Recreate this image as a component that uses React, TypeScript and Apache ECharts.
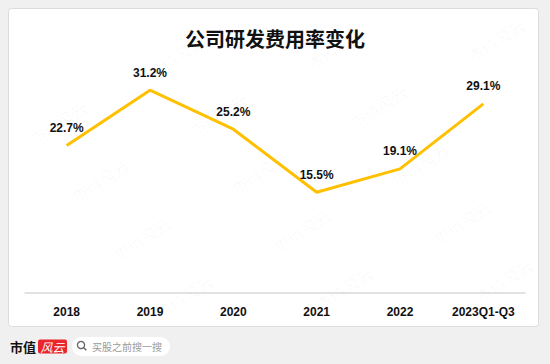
import React, { useEffect, useRef } from "react";
import * as echarts from "echarts";

const categories = ["2018", "2019", "2020", "2021", "2022", "2023Q1-Q3"];
const rdRatio = [22.7, 31.2, 25.2, 15.5, 19.1, 29.1];
const titleText = "公司研发费用率变化";
const watermarkText = "市值风云";

function buildWatermarks() {
  const out: any[] = [];
  const base = [58, 123];
  const a = [160, -8];
  const b = [42, 58];
  for (let i = -3; i <= 4; i++) {
    for (let j = -3; j <= 5; j++) {
      const x = base[0] + a[0] * i + b[0] * j;
      const y = base[1] + a[1] * i + b[1] * j;
      if (x < 40 || x > 510 || y < 30 || y > 335) continue;
      out.push({
        type: "text",
        x,
        y,
        rotation: (33 * Math.PI) / 180,
        z: 1,
        silent: true,
        style: {
          text: watermarkText,
          fontSize: 16,
          fontWeight: 300,
          fontFamily: "Noto Sans CJK SC",
          fill: "rgba(0,0,0,0.045)",
          textAlign: "center",
          textVerticalAlign: "middle",
        },
      });
    }
  }
  return out;
}

export default function App() {
  const ref = useRef<HTMLDivElement>(null);
  useEffect(() => {
    if (!ref.current) return;
    const chart = echarts.init(ref.current, null, { renderer: "svg" });
    chart.setOption({
      animation: false,
      backgroundColor: "#f0f0f0",
      title: {
        text: titleText,
        left: "center",
        top: 23,
        textStyle: {
          fontSize: 20,
          fontWeight: "bold",
          color: "#111",
          fontFamily: "Noto Sans CJK SC",
        },
      },
      grid: { left: 25, right: 25, top: 65.5, bottom: 71 },
      xAxis: {
        type: "category",
        data: categories,
        boundaryGap: true,
        axisLine: { lineStyle: { color: "#d9d9d9", width: 1.5 } },
        axisTick: { show: false },
        axisLabel: {
          margin: 13,
          fontSize: 12,
          fontWeight: "bold",
          color: "#111",
          fontFamily: "Liberation Sans",
        },
      },
      yAxis: {
        type: "value",
        min: 0,
        max: 35,
        show: false,
        splitLine: { show: false },
      },
      graphic: [
        {
          type: "rect",
          z: 0,
          silent: true,
          shape: { x: 8.5, y: 8.5, width: 530, height: 318, r: 3 },
          style: { fill: "#ffffff", stroke: "#dcdcdc", lineWidth: 1 },
        },
        ...buildWatermarks(),
        {
          type: "text",
          x: 10,
          y: 346,
          z: 5,
          style: {
            text: "市值",
            fontSize: 13,
            fontWeight: "bold",
            fontFamily: "Noto Sans CJK SC",
            fill: "#111",
            textVerticalAlign: "middle",
          },
        },
        {
          type: "rect",
          z: 5,
          shape: { x: 38, y: 339.5, width: 29, height: 14, r: 2 },
          style: { fill: "#e8262b" },
        },
        {
          type: "text",
          x: 52.5,
          y: 346.5,
          z: 6,
          style: {
            text: "风云",
            fontSize: 12,
            fontStyle: "italic",
            fontFamily: "Noto Sans CJK SC",
            fill: "#ffffff",
            textAlign: "center",
            textVerticalAlign: "middle",
          },
        },
        {
          type: "rect",
          z: 5,
          shape: { x: 72, y: 337, width: 98, height: 19, r: 9.5 },
          style: { fill: "#ffffff" },
        },
        {
          type: "circle",
          z: 6,
          shape: { cx: 81, cy: 345, r: 3.6 },
          style: { fill: "none", stroke: "#666", lineWidth: 1.3 },
        },
        {
          type: "line",
          z: 6,
          shape: { x1: 83.8, y1: 347.8, x2: 86.3, y2: 350.3 },
          style: { stroke: "#666", lineWidth: 1.5 },
        },
        {
          type: "text",
          x: 92,
          y: 346,
          z: 6,
          style: {
            text: "买股之前搜一搜",
            fontSize: 10,
            fontFamily: "Noto Sans CJK SC",
            fill: "#999",
            textVerticalAlign: "middle",
          },
        },
      ],
      series: [
        {
          type: "line",
          data: rdRatio,
          symbol: "circle",
          symbolSize: 1,
          showSymbol: true,
          itemStyle: { color: "rgba(0,0,0,0)" },
          z: 3,
          lineStyle: { color: "#FFC000", width: 3 },
          label: {
            show: true,
            position: "top",
            distance: 11,
            formatter: (p: any) => p.value + "%",
            fontSize: 12,
            fontWeight: "bold",
            color: "#111",
            fontFamily: "Liberation Sans",
          },
        },
      ],
    });
    return () => chart.dispose();
  }, []);
  return (
    <div
      ref={ref}
      style={{ position: "absolute", left: 0, top: 0, width: 550, height: 364 }}
    />
  );
}
